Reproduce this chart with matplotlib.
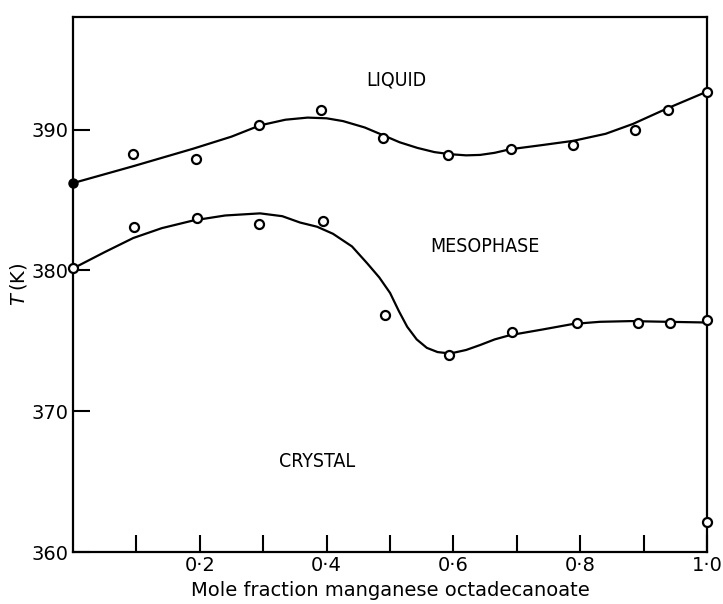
import numpy as np
from matplotlib import pyplot as plt

# measured transition temperatures (open circles)
x_upper = [0.0, 0.095, 0.194, 0.293, 0.391, 0.489, 0.591, 0.691, 0.789, 0.886, 0.938, 1.0]
t_upper = [386.2, 388.3, 387.9, 390.35, 391.4, 389.4, 388.2, 388.65, 388.9, 390.0, 391.4, 392.7]

x_lower = [0.0, 0.096, 0.196, 0.293, 0.394, 0.492, 0.593, 0.692, 0.795, 0.891, 0.942, 1.0]
t_lower = [380.2, 383.1, 383.75, 383.3, 383.5, 376.8, 374.0, 375.6, 376.3, 376.3, 376.3, 376.5]

x_extra = [1.0]
t_extra = [362.1]

# hand-drawn boundary curves
cx_upper = [0.0, 0.095, 0.19, 0.25, 0.295, 0.335, 0.37, 0.40, 0.426, 0.46, 0.489, 0.515, 0.543, 0.57,
            0.595, 0.62, 0.642, 0.665, 0.689, 0.74, 0.789, 0.84, 0.883, 0.937, 1.0]
ct_upper = [386.2, 387.4, 388.65, 389.5, 390.3, 390.7, 390.85, 390.8, 390.6, 390.15, 389.6, 389.1, 388.7, 388.4,
            388.25, 388.17, 388.2, 388.35, 388.6, 388.9, 389.2, 389.7, 390.4, 391.5, 392.7]

cx_lower = [0.0, 0.05, 0.095, 0.14, 0.19, 0.24, 0.295, 0.33, 0.358, 0.385, 0.41, 0.44, 0.464, 0.483, 0.5,
            0.514, 0.527, 0.542, 0.558, 0.575, 0.595, 0.62, 0.642, 0.665, 0.689, 0.74, 0.789, 0.831, 0.88, 0.937, 1.0]
ct_lower = [380.14, 381.3, 382.3, 383.0, 383.55, 383.9, 384.05, 383.85, 383.4, 383.1, 382.6, 381.7, 380.5, 379.5, 378.4,
            377.1, 376.0, 375.1, 374.5, 374.2, 374.1, 374.35, 374.7, 375.1, 375.4, 375.8, 376.2, 376.35, 376.4, 376.35, 376.3]

major_ticks = [0.2, 0.4, 0.6, 0.8, 1.0]
major_labels = ['0·2', '0·4', '0·6', '0·8', '1·0']
minor_ticks = [0.1, 0.3, 0.5, 0.7, 0.9]
y_ticks = [360, 370, 380, 390]

fig = plt.figure(figsize=(7.23, 6.04), dpi=100)
ax = fig.add_axes([0.101, 0.086, 0.877, 0.886])

ax.plot(cx_upper, ct_upper, color='black', lw=1.6)
ax.plot(cx_lower, ct_lower, color='black', lw=1.6)

mk = dict(marker='o', ms=6.5, mfc='white', mec='black', mew=1.6, ls='none', clip_on=False, zorder=3)
ax.plot(x_upper[1:], t_upper[1:], **mk)
ax.plot(x_upper[:1], t_upper[:1], marker='o', ms=6.5, color='black', ls='none', clip_on=False, zorder=3)
ax.plot(x_lower, t_lower, **mk)
ax.plot(x_extra, t_extra, **mk)

ax.set_xlim(0, 1.0)
ax.set_ylim(360, 398)

ax.set_xticks(major_ticks)
ax.set_xticklabels(major_labels)
ax.set_xticks(minor_ticks, minor=True)
ax.set_yticks(y_ticks)
ax.tick_params(axis='both', which='both', direction='in', length=12, width=1.5, labelsize=14)
ax.tick_params(axis='x', pad=3)
ax.tick_params(axis='y', pad=3)

for s in ax.spines.values():
    s.set_linewidth(1.6)

ax.text(0.51, 393.5, 'LIQUID', fontsize=14, ha='center', va='center', family='DejaVu Sans', stretch='condensed')
ax.text(0.65, 381.7, 'MESOPHASE', fontsize=14, ha='center', va='center', family='DejaVu Sans', stretch='condensed')
ax.text(0.385, 366.4, 'CRYSTAL', fontsize=14, ha='center', va='center', family='DejaVu Sans', stretch='condensed')

ax.set_xlabel('Mole fraction manganese octadecanoate', fontsize=14, labelpad=4)
ax.set_ylabel(r'$T\,$(K)', fontsize=14, labelpad=2)

fig.savefig('out.png', dpi=100)
